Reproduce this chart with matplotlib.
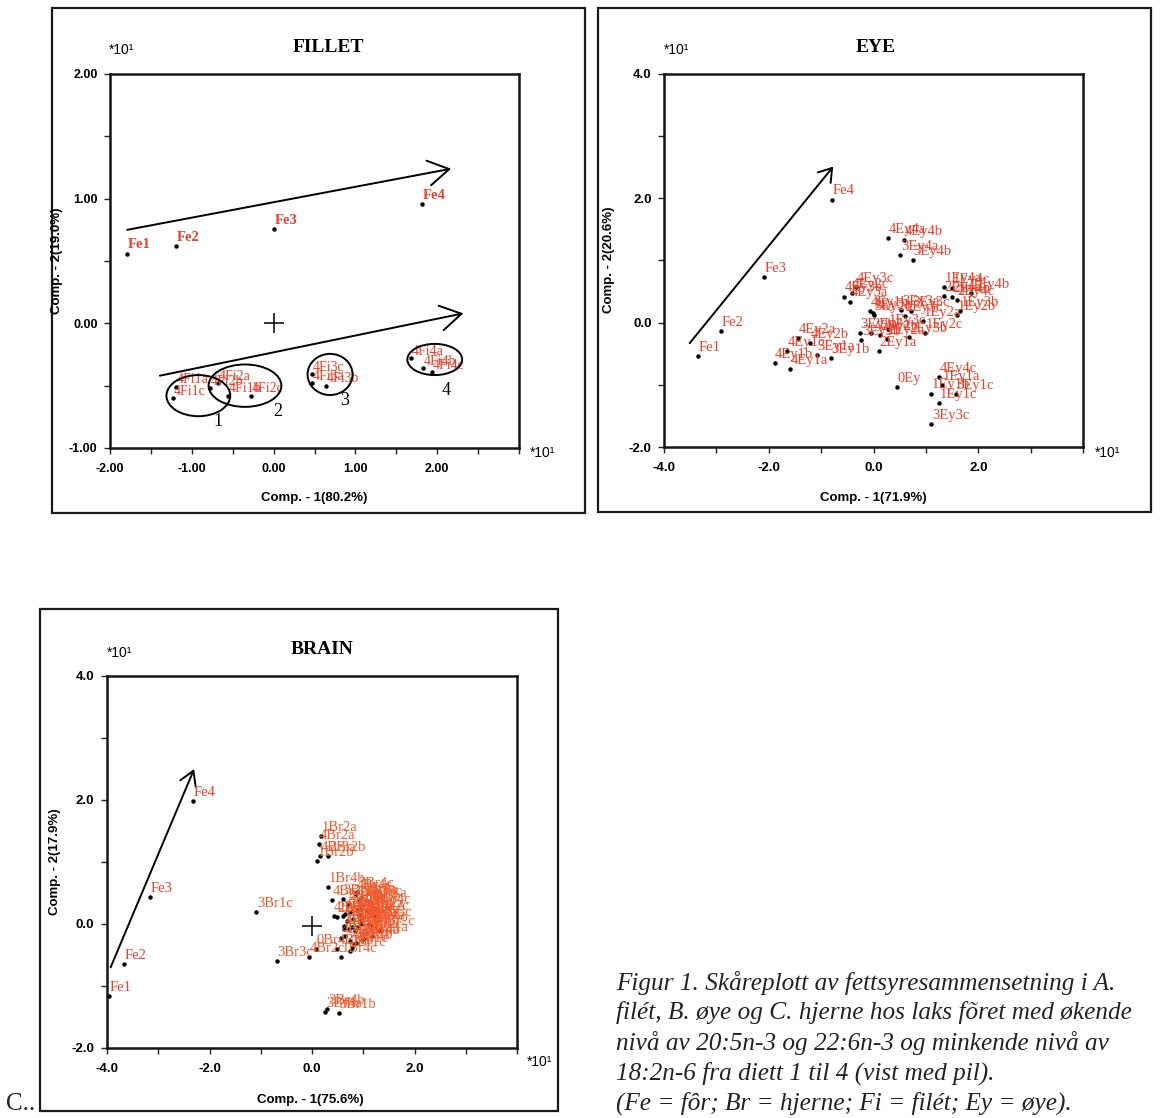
import matplotlib
matplotlib.use('Agg')
import matplotlib.pyplot as plt
from matplotlib.patches import Ellipse, Rectangle, FancyArrowPatch

W, H = 1160, 1118
SANS = ['Liberation Sans', 'DejaVu Sans']
SERIF = ['Liberation Serif', 'DejaVu Serif']
RED = '#e8402a'
ORANGE = '#f05a2c'

# ---------------- data ----------------
fe_labels = ['Fe1', 'Fe2', 'Fe3', 'Fe4']

# FILLET (units *10^1)
fillet_fe_x = [-1.79, -1.19, 0.01, 1.82]
fillet_fe_y = [0.56, 0.62, 0.76, 0.96]
fillet_labels = ['4Fi1c', '4Fi1a', '4Fi2b', '4Fi2a', '4Fi1b', '4Fi2c',
                 '4Fi3c', '4Fi3a', '4Fi3b', '4Fi4a', '4Fi4b', '4Fi4c']
fillet_x = [-1.23, -1.19, -0.78, -0.68, -0.56, -0.28, 0.47, 0.47, 0.64, 1.68, 1.83, 1.94]
fillet_y = [-0.60, -0.51, -0.52, -0.48, -0.58, -0.58, -0.41, -0.48, -0.50, -0.28, -0.36, -0.39]
fillet_groups = ['1', '2', '3', '4']
fillet_ell_x = [-0.92, -0.35, 0.69, 1.97]
fillet_ell_y = [-0.58, -0.50, -0.41, -0.29]
fillet_ell_w = [0.78, 0.89, 0.55, 0.67]
fillet_ell_h = [0.33, 0.34, 0.33, 0.25]
fillet_group_x = [-0.68, 0.05, 0.87, 2.11]
fillet_group_y = [-0.79, -0.71, -0.62, -0.54]
fillet_arrows = [((-1.79, 0.75), (2.17, 1.24)), ((-1.39, -0.42), (2.32, 0.08))]

# EYE
eye_fe_x = [-3.35, -2.92, -2.10, -0.80]
eye_fe_y = [-0.54, -0.13, 0.74, 1.98]
eye_labels = ['4Ey4a', '4Ey4b', '3Ey4a', '3Ey4b',
              '4Ey3c', '4Ey3b', '4Ey3a', '4Ey2c',
              '4Ey1b', '3Ey2b', '3Ey2a', '3Ey3b', '2Ey3a', '2Ey2b', '2Ey1a', '2Ey2a',
              '3Ey3a', '3Ey3c', '2Ey3c', '1Ey2a', '1Ey2c', '2Ey3b', '1Ey3a', '1Ey3c',
              '1Ey4a', '1Ey4c', '2Ey4a', '2Ey4b', '2Ey4c', '1Ey4b', '1Ey2b', '1Ey3b',
              '4Ey2a', '4Ey2b', '4Ey1c', '4Ey1b', '4Ey1a', '3Ey1a', '3Ey1b',
              '0Ey', '4Ey4c', '1Ey1a', '1Ey1b', '3Ey1c', '1Ey1c', '3Ey3c']
eye_x = [0.27, 0.59, 0.51, 0.75,
         -0.34, -0.57, -0.45, -0.42,
         -0.07, 0.00, -0.26, -0.23, -0.04, 0.12, 0.10, 0.25,
         0.53, 0.72, 0.60, 0.94, 0.98, 0.68, -0.01, 0.28,
         1.34, 1.49, 1.34, 1.49, 1.59, 1.87, 1.59, 1.65,
         -1.44, -1.22, -1.65, -1.89, -1.59, -1.08, -0.82,
         0.44, 1.26, 1.30, 1.10, 1.57, 1.26, 1.10]
eye_y = [1.36, 1.33, 1.09, 1.00,
         0.58, 0.42, 0.34, 0.47,
         0.18, 0.12, -0.17, -0.28, -0.17, -0.20, -0.45, -0.27,
         0.20, 0.18, 0.10, 0.02, -0.17, -0.23, 0.15, -0.10,
         0.58, 0.55, 0.43, 0.41, 0.37, 0.47, 0.12, 0.18,
         -0.25, -0.33, -0.45, -0.65, -0.74, -0.52, -0.57,
         -1.03, -0.88, -1.00, -1.14, -1.15, -1.30, -1.63]
eye_arrow = ((-3.51, -0.33), (-0.77, 2.51))

# BRAIN
brain_fe_x = [-3.97, -3.67, -3.17, -2.33]
brain_fe_y = [-1.16, -0.65, 0.43, 1.98]
brain_labels = ['1Br2a', '4Br2a', '1Br2b', '4Br3a', '2Br2b',
                '1Br4b', '4Br2b', '3Br4c', '2Br3b', '4Br4c',
                '4Br3c', '2Br1a', '2Br4a', '1Br3a', '2Br4b',
                '1Br1a', '1Br3c', '2Br3a', '1Br4a', '2Br4c', '3Br2a',
                '1Br1b', '2Br1b', '3Br2b', '1Br1c', '2Br1c', '3Br3a', '4Br1a', '4Br1b', '1Br4c',
                '3Br3b', '1Br2c', '2Br2c', '4Br1c', '4Br4a', '4Br4b',
                '2Br3c', '3Br2c', '4Br3b', '1Br3b', '2Br1a', '3Br4a', '2Br4a', '3Br1a',
                '1Br4a', '2Br2a', '3Br4b', '4Br4a', '1Br1a', '2Br3a', '3Br2b', '4Br3c',
                '1Br2b', '2Br4c', '3Br3c', '4Br1b',
                '3Br1c', '3Br3c', '4Br2c', '0Br',
                '3Br4b', '3Br4a', '3Br1b']
brain_x = [0.18, 0.13, 0.10, 0.15, 0.32,
           0.32, 0.39, 0.88, 0.91, 0.85,
           0.42, 0.49, 0.61, 0.65, 0.75,
           0.62, 0.72, 0.78, 1.11, 1.14, 0.94,
           0.65, 0.75, 0.85, 0.78, 0.74, 0.82, 0.56, 0.49, 0.56,
           1.00, 1.20, 1.05, 0.95, 1.02, 0.70,
           1.25, 1.30, 1.00, 0.90, 1.15, 0.95, 0.70, 0.60,
           0.88, 1.08, 0.98, 0.80, 1.18, 0.92, 0.68, 1.05,
           0.84, 1.22, 0.96, 0.62,
           -1.09, -0.69, -0.05, 0.08,
           0.30, 0.26, 0.52]
brain_y = [1.42, 1.29, 1.02, 1.10, 1.10,
           0.60, 0.39, 0.51, 0.37, 0.48,
           0.13, 0.11, 0.13, 0.16, 0.19,
           -0.03, -0.08, -0.05, 0.00, -0.03, 0.05,
           -0.19, -0.27, -0.30, -0.38, -0.43, -0.32, -0.22, -0.40, -0.54,
           0.30, 0.15, -0.15, 0.25, -0.22, 0.30,
           0.05, -0.10, 0.10, -0.05, 0.35, 0.42, 0.30, 0.40,
           0.22, 0.20, -0.25, 0.08, -0.20, 0.15, 0.05, 0.38,
           -0.12, 0.25, 0.00, -0.08,
           0.19, -0.60, -0.53, -0.40,
           -1.37, -1.42, -1.44]
brain_arrow = ((-3.93, -0.70), (-2.30, 2.50))

caption_lines = [
    'Figur 1. Skåreplott av fettsyresammensetning i A.',
    'filét, B. øye og C. hjerne hos laks fõret med økende',
    'nivå av 20:5n-3 og 22:6n-3 og minkende nivå av',
    '18:2n-6 fra diett 1 til 4 (vist med pil).',
    '(Fe = fôr; Br = hjerne; Fi = filét; Ey = øye).',
]

fig = plt.figure(figsize=(W / 100, H / 100), dpi=100)
fig.patch.set_facecolor('white')


def px_axes(left, top, right, bottom):
    return fig.add_axes([left / W, 1 - bottom / H, (right - left) / W, (bottom - top) / H])


def ftext(x, y, s, **kw):
    fig.text(x / W, 1 - y / H, s, **kw)


def frame(x0, y0, x1, y1):
    fig.add_artist(Rectangle((x0 / W, 1 - y1 / H), (x1 - x0) / W, (y1 - y0) / H,
                             transform=fig.transFigure, fill=False, lw=1.6, ec='#1a1a1a'))


def style(ax, xlim, ylim, xmaj, xmin, ymaj, ymin, fmt, size):
    ax.set_xlim(xlim)
    ax.set_ylim(ylim)
    ax.set_xticks(xmaj)
    ax.set_xticks(xmin, minor=True)
    ax.set_yticks(ymaj)
    ax.set_yticks(ymin, minor=True)
    ax.set_xticklabels([fmt.format(v) for v in xmaj])
    ax.set_yticklabels([fmt.format(v) for v in ymaj])
    for lab in ax.get_xticklabels() + ax.get_yticklabels():
        lab.set_fontfamily(SANS)
        lab.set_fontweight('bold')
        lab.set_fontsize(size)
    ax.tick_params(which='both', direction='out', length=4, width=1.0, color='#222')
    ax.tick_params(axis='x', pad=7)
    ax.tick_params(axis='y', pad=5)
    for sp in ax.spines.values():
        sp.set_linewidth(1.8)
        sp.set_color('#151515')


def points(ax, xs, ys, labels, color, size, weight='normal', dy=1.5):
    ax.plot(xs, ys, 'o', ms=2.2, color='black', zorder=3)
    for x, y, s in zip(xs, ys, labels):
        ax.annotate(s, (x, y), xytext=(0.5, dy), textcoords='offset points',
                    ha='left', va='bottom', color=color, fontsize=size,
                    fontfamily=SERIF, fontweight=weight, zorder=4, annotation_clip=False)


def arrow(ax, a, b, hl, hw):
    ax.add_patch(FancyArrowPatch(a, b, arrowstyle=f'->,head_length={hl},head_width={hw}',
                                 mutation_scale=20, lw=1.4, color='black',
                                 shrinkA=0, shrinkB=0, zorder=2))


def panel_text(title, tx, ty, sx, sy, rx, ry, xl, xlx, xly, yl, ylx, yly):
    ftext(tx, ty, title, ha='center', va='center', fontsize=14, fontweight='bold', fontfamily=SERIF)
    ftext(sx, sy, '*10¹', ha='center', va='center', fontsize=10, fontfamily=SANS)
    ftext(rx, ry, '*10¹', ha='center', va='center', fontsize=10, fontfamily=SANS)
    ftext(xlx, xly, xl, ha='center', va='center', fontsize=9.5, fontweight='bold', fontfamily=SANS)
    ftext(ylx, yly, yl, ha='center', va='center', fontsize=9.5, fontweight='bold',
          fontfamily=SANS, rotation=90)


# ---------------- FILLET ----------------
frame(52, 8, 585, 513)
ax1 = px_axes(110, 74, 519, 448)
style(ax1, (-2, 3), (-1, 2), [-2, -1, 0, 1, 2], [-1.5, -0.5, 0.5, 1.5, 2.5, 3.0],
      [-1, 0, 1, 2], [-0.5, 0.5, 1.5], '{:.2f}', 9)
for (a, b) in fillet_arrows:
    arrow(ax1, a, b, 0.75, 0.45)
ax1.plot([0], [0], marker='+', ms=15, mew=1.1, color='black')
for cx, cy, w, h in zip(fillet_ell_x, fillet_ell_y, fillet_ell_w, fillet_ell_h):
    ax1.add_patch(Ellipse((cx, cy), w, h, fill=False, lw=1.4, ec='black', zorder=5))
for gx, gy, g in zip(fillet_group_x, fillet_group_y, fillet_groups):
    ax1.text(gx, gy, g, ha='center', va='center', fontsize=13, fontfamily=SERIF)
points(ax1, fillet_fe_x, fillet_fe_y, fe_labels, RED, 10.5, weight='bold')
points(ax1, fillet_x, fillet_y, fillet_labels, RED, 10, dy=0.3)
panel_text('FILLET', 328, 47, 122, 50, 543, 453, 'Comp. - 1(80.2%)', 314, 498,
           'Comp. - 2(19.0%)', 57, 261)

# ---------------- EYE ----------------
frame(598, 8, 1151, 512)
ax2 = px_axes(664, 74, 1083, 447)
style(ax2, (-4, 4), (-2, 4), [-4, -2, 0, 2], [-3, -1, 1, 3, 4],
      [-2, 0, 2, 4], [-1, 1, 3], '{:.1f}', 9.5)
arrow(ax2, eye_arrow[0], eye_arrow[1], 0.45, 0.3)
points(ax2, eye_fe_x, eye_fe_y, fe_labels, RED, 10.5)
points(ax2, eye_x, eye_y, eye_labels, RED, 10.5)
panel_text('EYE', 876, 47, 677, 50, 1108, 453, 'Comp. - 1(71.9%)', 873, 498,
           'Comp. - 2(20.6%)', 609, 260)

# ---------------- BRAIN ----------------
frame(40, 609, 558, 1111)
ax3 = px_axes(107, 676, 517, 1048)
style(ax3, (-4, 4), (-2, 4), [-4, -2, 0, 2], [-3, -1, 1, 3, 4],
      [-2, 0, 2, 4], [-1, 1, 3], '{:.1f}', 9.5)
arrow(ax3, brain_arrow[0], brain_arrow[1], 0.5, 0.3)
ax3.plot([0], [-0.03], marker='+', ms=15, mew=1.1, color='black')
points(ax3, brain_fe_x, brain_fe_y, fe_labels, RED, 10.5)
points(ax3, brain_x, brain_y, brain_labels, ORANGE, 10.5)
panel_text('BRAIN', 322, 649, 120, 653, 540, 1062, 'Comp. - 1(75.6%)', 310, 1100,
           'Comp. - 2(17.9%)', 55, 862)

# ---------------- caption ----------------
ftext(6, 1104, 'C..', ha='left', va='center', fontsize=18, fontfamily=SERIF, color='#222')
for i, line in enumerate(caption_lines):
    ftext(616, 983 + 30 * i, line, ha='left', va='center', fontsize=18.2,
          fontstyle='italic', fontfamily=SERIF, color='#222')

fig.savefig('out.png', dpi=100)
